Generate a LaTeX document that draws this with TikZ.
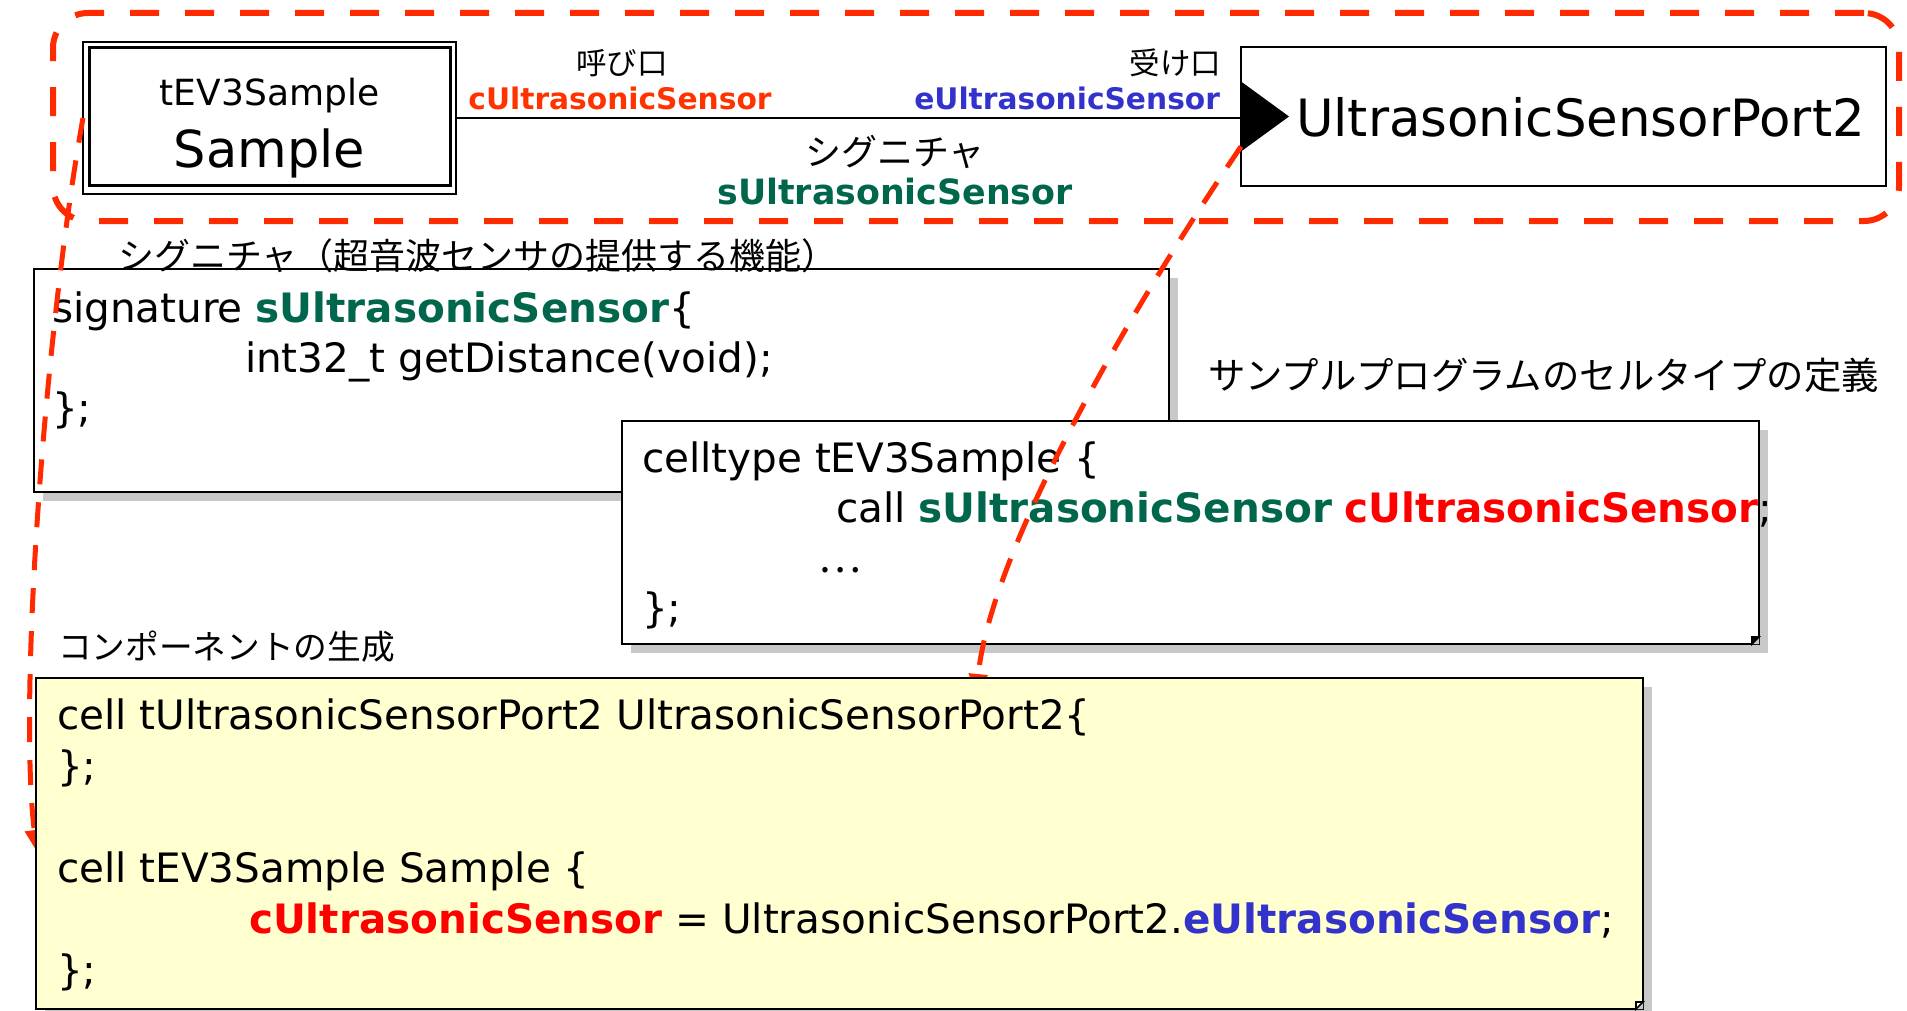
\documentclass[tikz,border=0pt]{standalone}
\usepackage{fontspec}
\setmainfont{DejaVu Sans}
\newfontfamily\jp{Noto Sans CJK JP}
\usetikzlibrary{arrows.meta,shadows,calc}
\definecolor{dashred}{HTML}{FF2A00}
\definecolor{lblorange}{HTML}{FF3300}
\definecolor{codered}{HTML}{FF0000}
\definecolor{eblue}{HTML}{3333CC}
\definecolor{sgreen}{HTML}{00664C}
\definecolor{shadowgray}{HTML}{C8C8C8}
\definecolor{noteyellow}{HTML}{FFFFD0}
\newcommand\fsz[1]{\fontsize{#1pt}{#1pt}\selectfont}
\newcommand\foldcorner[2]{%
  \fill[shadowgray] (#1.south east) -- ++(0pt,3.5pt) -- ++(-3.5pt,-3.5pt) -- cycle;
  \filldraw[fill=#2, draw=black, line width=0.8pt] ([yshift=3.5pt]#1.south east) -- ([xshift=-3.5pt]#1.south east) -- ([xshift=-3.5pt,yshift=3.5pt]#1.south east) -- cycle;}
\begin{document}
\begin{tikzpicture}[x=0.5pt,y=-0.5pt,
  txt/.style={inner sep=0pt, outer sep=0pt},
  code/.style={txt, anchor=base west, font=\fsz{20.25}},
  box/.style={draw=black, line width=1pt, inner sep=0pt, outer sep=0pt, anchor=north west},
  shadowbox/.style={box, drop shadow={shadow xshift=4.5pt, shadow yshift=-4.5pt, fill=shadowgray, opacity=1}},
  groupbox/.style={draw=dashred, line width=3pt, dash pattern=on 14.5pt off 13pt, rounded corners=17.5pt, inner sep=0pt, outer sep=0pt, anchor=north west},
  redarrow/.style={draw=dashred, line width=2.5pt, dash pattern=on 12.5pt off 9pt, -{Triangle[length=11pt,width=9pt]}},
  conn/.style={draw=black, line width=1pt}
]
\useasboundingbox (0,0) rectangle (1907,1011);

% group (dashed rounded rectangle)
\node[groupbox, minimum width=923pt, minimum height=104pt] (grp) at (53,13) {};

% Sample cell
\node[box, minimum width=186.5pt, minimum height=76pt] (sample) at (83,42) {};
\node[box, line width=1.5pt, minimum width=180.5pt, minimum height=69pt] (sampleinner) at (89,48) {};
\node[txt, anchor=base, font=\fsz{18}] (tname) at (269.5,106) {tEV3Sample};
\node[txt, anchor=base, font=\fsz{25.5}] (cname) at (269.5,168) {Sample};

% Port cell
\node[box, minimum width=322.5pt, minimum height=69.5pt] (port) at (1241,47) {};
\node[txt, anchor=base west, font=\fsz{25.7}] (portname) at (1296,137) {UltrasonicSensorPort2};
\fill ([yshift=17.5pt]port.west) -- ([xshift=24pt]port.west) -- ([yshift=-17.5pt]port.west) -- cycle;
\coordinate (portfoot) at ([yshift=-15pt]port.west);
\draw[conn] (sample.east) -- (sample.east -| port.west);

% connector labels
\node[txt, anchor=center, font=\jp\fsz{15.25}] (callj) at (622,63) {呼び口};
\node[txt, anchor=base, font=\bfseries\fsz{14.85}, text=lblorange] (callname) at (620,110) {cUltrasonicSensor};
\node[txt, anchor=east, font=\jp\fsz{15.25}] (entj) at (1221,63) {受け口};
\node[txt, anchor=base east, font=\bfseries\fsz{14.85}, text=eblue] (entname) at (1220,110) {eUltrasonicSensor};
\node[txt, anchor=center, font=\jp\fsz{18}] (sigj) at (895,152) {シグニチャ};
\node[txt, anchor=base, font=\bfseries\fsz{17.4}, text=sgreen] (signame) at (895,205) {sUltrasonicSensor};

% signature box
\node[shadowbox, fill=white, minimum width=567.5pt, minimum height=111.5pt] (sig) at (34,269) {};
\foldcorner{sig}{black}
\node[code] (sig1) at (52,322) {signature \textbf{\color{sgreen}sUltrasonicSensor}\{};
\node[code] (sig2) at (245,372) {int32\_t getDistance(void);};
\node[code] (sig3) at (52,422) {\};};
\node[txt, anchor=west, font=\jp\fsz{18}] (sigtitle) at (118,256) {シグニチャ（超音波センサの提供する機能）};

% celltype box
\node[txt, anchor=west, font=\jp\fsz{18.7}] (celltitle) at (1208,375) {サンプルプログラムのセルタイプの定義};
\node[shadowbox, fill=white, minimum width=568.5pt, minimum height=111.5pt] (ct) at (622,421) {};
\foldcorner{ct}{black}
\node[code] (ct1) at (642,472) {celltype tEV3Sample \{};
\node[code] (ct2) at (836,522) {call \textbf{\color{sgreen}sUltrasonicSensor} \textbf{\color{codered}cUltrasonicSensor};};
\node[code, font=\jp\fsz{20.25}] (ct3) at (818,572) {…};
\node[code] (ct4) at (642,622) {\};};

% arrows
\coordinate (end1) at (37,852);
\coordinate (end2) at (976,696);
\draw[redarrow] (sample.west) .. controls (45,330) and (18,700) .. (end1);
\draw[redarrow] (portfoot) .. controls (1110,340) and (990,560) .. (end2);

% component creation box
\node[txt, anchor=west, font=\jp\fsz{16.85}] (comptitle) at (58,647) {コンポーネントの生成};
\node[shadowbox, fill=noteyellow, minimum width=803.5pt, minimum height=165.5pt] (cells) at (36,678) {};
\foldcorner{cells}{white}
\node[code] (c1) at (57,729) {cell tUltrasonicSensorPort2 UltrasonicSensorPort2\{};
\node[code] (c2) at (57,780) {\};};
\node[code] (c3) at (57,882) {cell tEV3Sample Sample \{};
\node[code] (c4) at (249,933) {\textbf{\color{codered}cUltrasonicSensor} = UltrasonicSensorPort2.\textbf{\color{eblue}eUltrasonicSensor};};
\node[code] (c5) at (57,984) {\};};
\end{tikzpicture}
\end{document}
